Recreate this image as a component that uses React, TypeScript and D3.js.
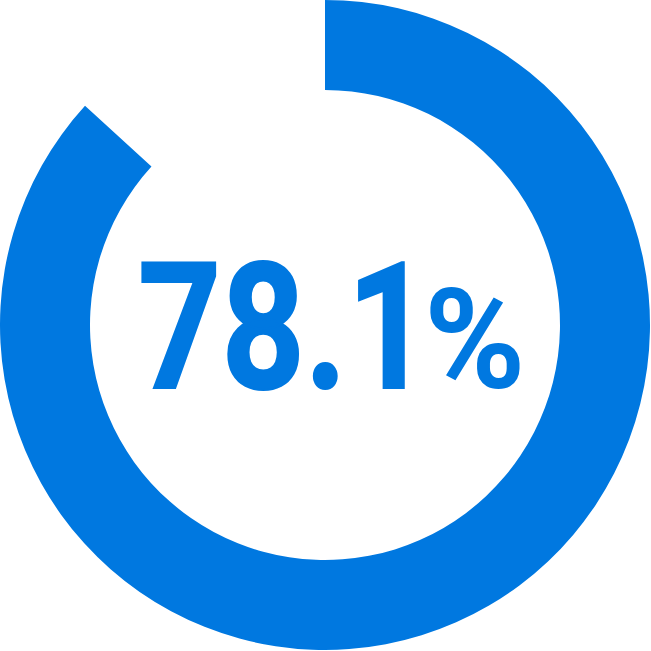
import React from "react";
import * as d3 from "d3";

const value = 78.1;
const maxValue = 90;
const label = "78.1";
const unit = "%";

const W = 651;
const H = 651;
const color = "#0078e0";

export default function App() {
  const cx = 325;
  const cy = 325;
  const outer = 325;
  const inner = 235;
  const angle = d3.scaleLinear().domain([0, maxValue]).range([0, 2 * Math.PI]);
  const arc = d3.arc<any>()
    .innerRadius(inner)
    .outerRadius(outer)
    .startAngle(angle(0))
    .endAngle(angle(value));
  return (
    <svg width={W} height={H} style={{ position: "absolute", left: 0, top: 0, background: "#fff" }}>
      <g transform={`translate(${cx},${cy})`}>
        <path d={arc({}) as string} fill={color} />
      </g>
      <g transform="translate(138,388) scale(0.826,1)">
        <text x={0} y={0} fontFamily="Roboto" fontWeight={700} fontSize={176}
          fill={color} stroke={color} strokeWidth={2}>{label}</text>
      </g>
      <g transform="translate(424,388) scale(0.98,1)">
        <text x={0} y={0} fontFamily="Roboto" fontWeight={700} fontSize={140}
          fill={color}>{unit}</text>
      </g>
    </svg>
  );
}
